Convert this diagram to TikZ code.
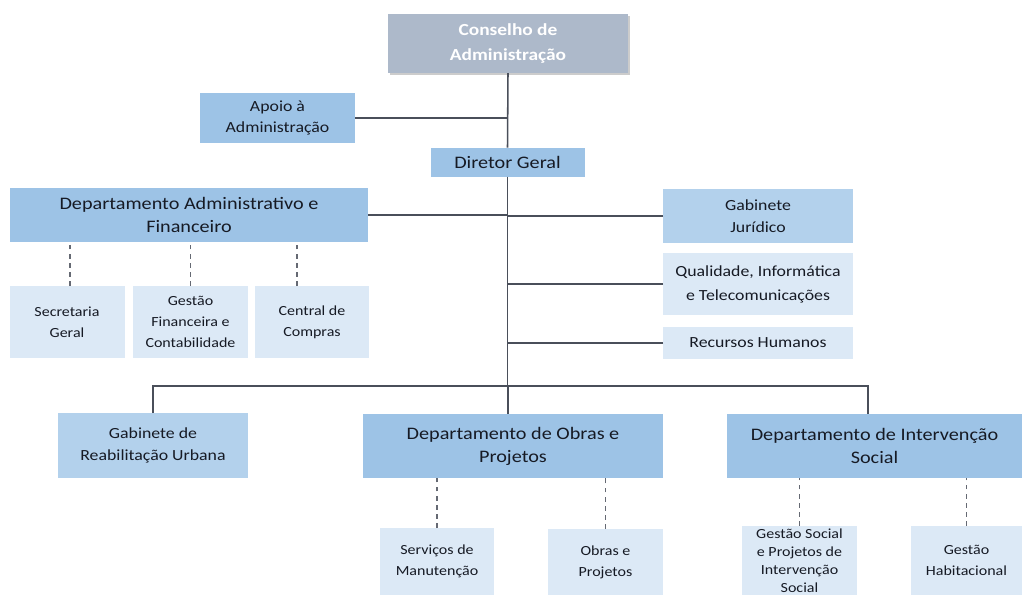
\documentclass[tikz,border=0pt]{standalone}
\usepackage{fontspec}
\setmainfont{Carlito}[FakeStretch=1.15]
\usetikzlibrary{calc,shadows}
\definecolor{boardgray}{HTML}{ADB9CA}
\definecolor{deptblue}{HTML}{9DC3E6}
\definecolor{unitblue}{HTML}{B3D1EC}
\definecolor{subblue}{HTML}{DCE9F6}
\definecolor{linegray}{HTML}{4A4F5A}
\definecolor{inkblue}{HTML}{161A24}
\tikzset{
	cell/.style 2 args={rectangle, inner sep=0pt, outer sep=0pt, minimum width=#1*0.025cm, minimum height=#2*0.025cm, align=center, text=inkblue},
	board/.style={fill=boardgray, text=white, font=\fontsize{12}{17.5}\selectfont\bfseries, drop shadow={shadow xshift=1.5pt, shadow yshift=-1.5pt, opacity=0.4}},
	head/.style={fill=deptblue, font=\fontsize{12.5}{16.5}\selectfont},
	staff/.style={fill=deptblue, font=\fontsize{11}{15.5}\selectfont},
	unit/.style={fill=unitblue, font=\fontsize{11}{16}\selectfont},
	svc/.style={fill=subblue, font=\fontsize{11}{17}\selectfont},
	sub/.style={fill=subblue, font=\fontsize{9.9}{15}\selectfont},
	link/.style={draw=linegray, line width=1.1pt},
	dotlink/.style={draw=linegray!85, line width=1.1pt, dash pattern=on 3.5pt off 3pt}
}

\begin{document}
\begin{tikzpicture}[x=0.025cm, y=-0.025cm]
		%%%%% START %%%%%
		\useasboundingbox (0, 0) rectangle (1022, 595);
		
		% top
		\node[cell={240}{59}, board] (cons) at (508, 43.5) {Conselho de\\Administração};
		\node[cell={155}{50}, staff] (apoio) at (277.5, 118) {Apoio à\\Administração};
		\node[cell={154}{29}, head] (dir) at (507.5, 162) {Diretor Geral};
		
		% side units
		\node[cell={358}{54}, head] (adm) at (189, 215) {Departamento Administrativo e\\Financeiro};
		\node[cell={190}{54}, unit] (jur) at (758, 216) {Gabinete\\Jurídico};
		\node[cell={190}{62}, svc] (qual) at (758, 284) {Qualidade, Informática\\e Telecomunicações};
		\node[cell={190}{32}, svc] (rh) at (758, 343) {Recursos Humanos};
		
		\node[cell={115}{72}, sub] (sec) at (67, 322) {Secretaria\\Geral};
		\node[cell={115}{72}, sub] (gfc) at (190.5, 322) {Gestão\\Financeira e\\Contabilidade};
		\node[cell={114}{72}, sub] (ccp) at (312, 322) {Central de\\Compras};
		
		% lower row
		\node[cell={190}{65}, unit] (gru) at (153, 445.5) {Gabinete de\\Reabilitação Urbana};
		\node[cell={300}{64}, head] (obr) at (513, 446) {Departamento de Obras e\\Projetos};
		\node[cell={295}{64}, head] (int) at (874.5, 446) {Departamento de Intervenção\\Social};
		
		\node[cell={114}{67}, sub] (smt) at (437, 561.5) {Serviços de\\Manutenção};
		\node[cell={115}{66}, sub] (opj) at (605.5, 562) {Obras e\\Projetos};
		\node[cell={115}{69}, sub, font=\fontsize{9.9}{12.8}\selectfont] (gsp) at (799.5, 560.5) {Gestão Social\\e Projetos de\\Intervenção\\Social};
		\node[cell={111}{69}, sub] (ghb) at (966.5, 560.5) {Gestão\\Habitacional};
		
		% solid links
		\coordinate (bus) at (508, 386);
		\coordinate (intin) at ($(int.north)+(-6.5, 0)$);
		\draw[link] (cons.south) -- (dir.north);
		\draw[link] (dir.south) -- (dir.south |- bus);
		\draw[link] (apoio.east) -- (apoio.east -| cons.south);
		\draw[link] (adm.east) -- (adm.east -| cons.south);
		\draw[link] (jur.west) -- (jur.west -| cons.south);
		\draw[link] (qual.west) -- (qual.west -| cons.south);
		\draw[link] (rh.west) -- (rh.west -| cons.south);
		\draw[link] (gru.north) -- (gru.north |- bus) -- (intin |- bus) -- (intin);
		\draw[link] (bus) -- (obr.north -| bus);
		
		% dashed links
		\coordinate (secin) at ($(sec.north)+(3, 0)$);
		\coordinate (ccpin) at ($(ccp.north)+(-15, 0)$);
		\draw[dotlink] (secin) -- (secin |- adm.south);
		\draw[dotlink] (gfc.north) -- (gfc.north |- adm.south);
		\draw[dotlink] (ccpin) -- (ccpin |- adm.south);
		\draw[dotlink] (smt.north) -- (smt.north |- obr.south);
		\draw[dotlink] (opj.north) -- (opj.north |- obr.south);
		\draw[dotlink] (gsp.north) -- (gsp.north |- int.south);
		\draw[dotlink] (ghb.north) -- (ghb.north |- int.south);
		
		%%%%% END %%%%%
	\end{tikzpicture}
\end{document}
